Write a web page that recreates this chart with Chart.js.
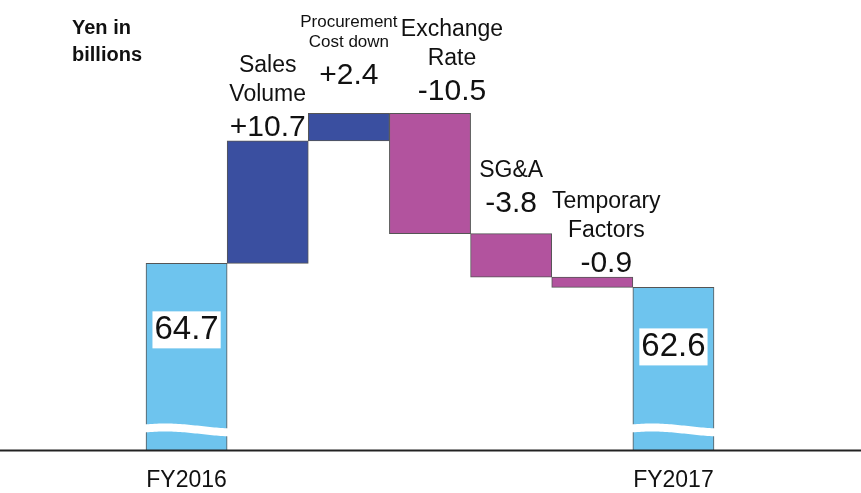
<!DOCTYPE html>
<html>
<head>
<meta charset="utf-8">
<script src="https://cdn.jsdelivr.net/npm/chart.js@4.4.1/dist/chart.umd.min.js"></script>
<style>
  html, body { margin: 0; padding: 0; background: #fff; }
  #wrap { width: 861px; height: 493px; position: relative; }
</style>
</head>
<body>
<div id="wrap"><canvas id="chart"></canvas></div>
<script>
// Data (yen in billions)
const categories = ['FY2016', 'Sales Volume', 'Procurement Cost down', 'Exchange Rate', 'SG&A', 'Temporary Factors', 'FY2017'];
const nameLines = [[], ['Sales', 'Volume'], ['Procurement', 'Cost down'], ['Exchange', 'Rate'], ['SG&A'], ['Temporary', 'Factors'], []];
const startValue = 64.7;
const changes = [10.7, 2.4, -10.5, -3.8, -0.9];
const endValue = 62.6;
const tickLabels = ['FY2016', '', '', '', '', '', 'FY2017'];

// waterfall ranges
const ranges = [[0, startValue]];
const deltas = [startValue];
let running = startValue;
changes.forEach(c => {
  ranges.push([running, +(running + c).toFixed(1)]);
  deltas.push(c);
  running = +(running + c).toFixed(1);
});
ranges.push([0, endValue]);
deltas.push(endValue);

const colTotal = '#6EC4EE';
const colUp = '#3A4FA0';
const colDown = '#B2539E';
const barColors = deltas.map((d, i) => (i === 0 || i === deltas.length - 1) ? colTotal : (d >= 0 ? colUp : colDown));

// label placement (pixels relative to bar top)
const labelDx = [0, 0, 0, 22, 0, 14, 0];
const labelDy = [-66, 13, 38, 22, 30, 13, -59];
const FONT = '"Liberation Sans", Arial, sans-serif';

const labelPlugin = {
  id: 'waterfallLabels',
  afterDatasetsDraw(chart) {
    const ctx = chart.ctx;
    const meta = chart.getDatasetMeta(0);
    const area = chart.chartArea;
    ctx.save();

    // axis break waves on the total bars
    [0, meta.data.length - 1].forEach(i => {
      const el = meta.data[i];
      const x0 = el.x - el.width / 2 - 2;
      const x1 = el.x + el.width / 2 + 2;
      const c = area.bottom - 24;
      const wave = t => c + 2.5 * Math.sin(Math.PI * (1.2 * t - 0.8));
      ctx.beginPath();
      for (let k = 0; k <= 40; k++) {
        const t = k / 40;
        const x = x0 + (x1 - x0) * t;
        k === 0 ? ctx.moveTo(x, wave(t)) : ctx.lineTo(x, wave(t));
      }
      for (let k = 40; k >= 0; k--) {
        const t = k / 40;
        ctx.lineTo(x0 + (x1 - x0) * t, wave(t) + 8);
      }
      ctx.closePath();
      ctx.fillStyle = '#fff';
      ctx.fill();
    });

    ctx.fillStyle = '#111';
    ctx.textAlign = 'center';
    ctx.textBaseline = 'middle';
    meta.data.forEach((el, i) => {
      const top = Math.min(el.y, el.base);
      const x = el.x + labelDx[i];
      if (i === 0 || i === meta.data.length - 1) {
        const txt = deltas[i].toFixed(1);
        ctx.font = '33px ' + FONT;
        const w = ctx.measureText(txt).width + 4;
        const y = top + (-labelDy[i]);
        ctx.fillStyle = '#fff';
        ctx.fillRect(x - w / 2, y - 18, w, 37);
        ctx.fillStyle = '#111';
        ctx.fillText(txt, x, y + 1);
        return;
      }
      const vy = top - labelDy[i];
      const sign = deltas[i] > 0 ? '+' : '';
      ctx.font = '30px ' + FONT;
      ctx.fillText(sign + deltas[i].toFixed(1), x, vy);
      const small = i === 2;
      ctx.font = (small ? '17px ' : '23px ') + FONT;
      const lh = small ? 20 : 29;
      const lines = nameLines[i];
      lines.slice().reverse().forEach((ln, k) => {
        ctx.fillText(ln, x, vy - 33 - k * lh);
      });
    });

    // unit note
    ctx.textAlign = 'left';
    ctx.font = 'bold 20px ' + FONT;
    ctx.fillText('Yen in', 72, 28);
    ctx.fillText('billions', 72, 55);
    ctx.restore();
  },
  afterDraw(chart) {
    const ctx = chart.ctx;
    const y = Math.round(chart.chartArea.bottom) + 0.5;
    ctx.save();
    ctx.strokeStyle = '#222';
    ctx.lineWidth = 2;
    ctx.beginPath();
    ctx.moveTo(0, y);
    ctx.lineTo(chart.width, y);
    ctx.stroke();
    ctx.restore();
  }
};

const ctx = document.getElementById('chart').getContext('2d');
const chart = new Chart(ctx, {
  type: 'bar',
  data: {
    labels: categories,
    datasets: [{
      data: ranges,
      backgroundColor: barColors,
      borderColor: '#555',
      borderWidth: 1,
      borderSkipped: false,
      barPercentage: 1,
      categoryPercentage: 1,
      clip: { left: 2, right: 2, top: 2, bottom: 0 }
    }]
  },
  options: {
    responsive: true,
    maintainAspectRatio: false,
    animation: false,
    layout: { padding: { left: 146, right: 147, top: 0, bottom: 2 } },
    plugins: {
      legend: { display: false },
      tooltip: { enabled: false }
    },
    scales: {
      x: {
        grid: { display: false, drawTicks: false },
        border: { display: false },
        afterFit: scale => { scale.height = 41; },
        ticks: {
          color: '#111',
          font: { family: FONT, size: 23 },
          padding: 17,
          maxRotation: 0,
          autoSkip: false,
          callback: (v, i) => tickLabels[i]
        }
      },
      y: {
        display: false,
        min: 48.4,
        max: 87.7
      }
    }
  },
  plugins: [labelPlugin]
});
</script>
</body>
</html>
